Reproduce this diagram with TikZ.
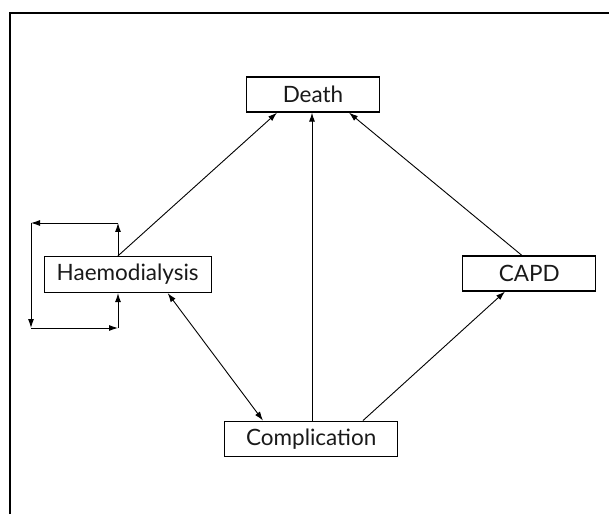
\documentclass[tikz,border=0pt]{standalone}
\usepackage{fontspec}
\setmainfont{Lato}
\usetikzlibrary{arrows.meta}

\tikzset{
  statebox/.style={draw, line width=1.3pt, inner sep=0pt, minimum height=35pt,
    font=\fontsize{22.5}{26}\selectfont, text=black!90},
  link/.style={line width=0.9pt, -{Latex[length=9pt,width=6pt]}},
}

\begin{document}
\begin{tikzpicture}[x=1pt, y=1pt]

\useasboundingbox (0,0) rectangle (609,514);
\draw[line width=1.4pt] (10,0) -- (10,501) -- (609,501);

\node[statebox, minimum width=133pt] (death) at (313,419.5) {Death};
\node[statebox, minimum width=167pt, minimum height=36pt] (hd) at (127.7,239.5) {Haemodialysis};
\node[statebox, minimum width=133pt] (capd) at (529.3,240.6) {CAPD};
\node[statebox, minimum width=173pt] (comp) at (311.2,75.3) {Complication};

\draw[link] (hd.north -| 118,0) -- (death.south -| 277,0);
\draw[link] (comp.north -| 312,0) -- (death.south -| 312,0);
\draw[link] (capd.north -| 521.7,0) -- (death.south -| 349,0);
\draw[link] (comp.north -| 363,0) -- (capd.south -| 505,0);
\draw[link, {Latex[length=9pt,width=6pt]}-{Latex[length=9pt,width=6pt]}] (hd.south -| 167.7,0) -- (comp.north -| 263,0);

% loop back to haemodialysis
\coordinate (rt) at (118,291);
\coordinate (lt) at (31,291);
\coordinate (lb) at (31,186);
\coordinate (rb) at (118,186);
\draw[link] (hd.north -| rt) -- (rt);
\draw[link] (rt) -- (lt);
\draw[link] (lt) -- (lb);
\draw[link] (lb) -- (rb);
\draw[link] (rb) -- (hd.south -| rb);

\end{tikzpicture}
\end{document}
